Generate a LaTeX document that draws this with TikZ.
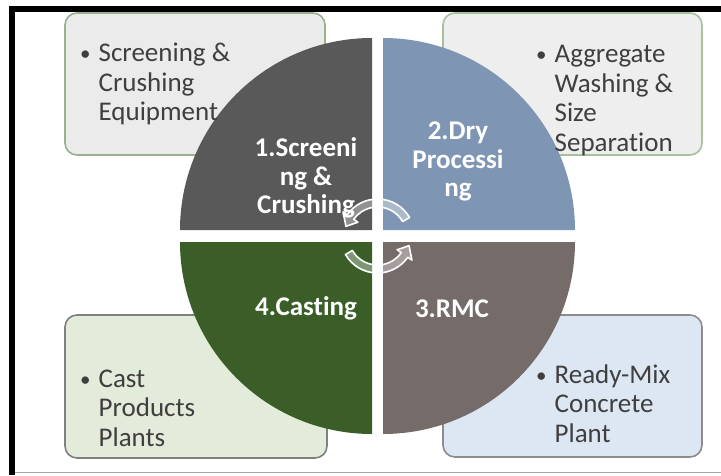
\documentclass[tikz,border=0pt]{standalone}
\usepackage{fontspec}
\setmainfont{Carlito}[Ligatures=NoCommon]
\definecolor{qone}{HTML}{595959}
\definecolor{qtwo}{HTML}{7E95B3}
\definecolor{qthree}{HTML}{756B68}
\definecolor{qfour}{HTML}{3B5E29}
\definecolor{boxtxt}{HTML}{3F3F3F}
\definecolor{fillA}{HTML}{EBEBEB}
\definecolor{fillB}{HTML}{EDEEED}
\definecolor{fillC}{HTML}{E3EBDA}
\definecolor{fillD}{HTML}{DDE7F3}
\definecolor{edgeA}{HTML}{9DB08C}
\definecolor{edgeB}{HTML}{A9C19B}
\definecolor{edgeC}{HTML}{808080}
\definecolor{edgeD}{HTML}{8C8C8C}
\newcommand{\smallbul}{\raisebox{1pt}{\fontsize{21}{21}\selectfont\textbullet}}
\tikzset{
  outerbox/.style={rounded corners=12pt, line width=1.6pt, inner sep=0pt, minimum width=260pt},
  boxtext/.style={anchor=base west, inner sep=0pt, text=boxtxt, font=\fontsize{27}{29.5}\selectfont},
  qlabel/.style={anchor=base, inner sep=0pt, text=white, font=\fontsize{27}{28.5}\selectfont\bfseries},
  arrowband/.style={fill=white, fill opacity=0.35, draw=white, draw opacity=1, line width=1.6pt, line join=round}
}
\begin{document}
\begin{tikzpicture}[x=1pt,y=1pt]
\useasboundingbox (0,0) rectangle (721,475);
% frame
\fill[black] (9,0) rectangle (15,469);
\fill[black] (9,463) rectangle (721,469);
\draw[gray!70, line width=1pt] (15,2.5) -- (721,2.5);
% boxes
\node[outerbox, fill=fillA, draw=edgeA, minimum height=142pt] (b1) at (195,391) {};
\node[outerbox, fill=fillB, draw=edgeB, minimum height=142pt, minimum width=259pt] (b2) at (572.5,391) {};
\node[outerbox, fill=fillC, draw=edgeC, minimum height=143pt, minimum width=262pt] (b4) at (196,88.5) {};
\node[outerbox, fill=fillD, draw=edgeD, minimum height=142pt, minimum width=259pt] (b3) at (572.5,89) {};
% quadrants
\fill[qone] (372,245) -- ++(-192,0) arc[start angle=180,end angle=90,radius=192] -- cycle;
\fill[qtwo] (383,245) -- ++(0,192) arc[start angle=90,end angle=0,radius=192] -- cycle;
\fill[qthree] (383,233) -- ++(192,0) arc[start angle=0,end angle=-90,radius=192] -- cycle;
\fill[qfour] (372,233) -- ++(0,-192) arc[start angle=270,end angle=180,radius=192] -- cycle;
% center arrows
\coordinate (C) at (377.5,239);
\draw[arrowband] ([shift={(30:37)}]C) arc[start angle=30,end angle=145,radius=37]
  -- ([shift={(145:42)}]C) -- ([shift={(163:33)}]C) -- ([shift={(145:24)}]C)
  -- ([shift={(145:29)}]C) arc[start angle=145,end angle=30,radius=29] -- cycle;
\draw[arrowband] ([shift={(210:37)}]C) arc[start angle=210,end angle=325,radius=37]
  -- ([shift={(325:42)}]C) -- ([shift={(343:33)}]C) -- ([shift={(325:24)}]C)
  -- ([shift={(325:29)}]C) arc[start angle=325,end angle=210,radius=29] -- cycle;
% quadrant labels
\node[qlabel] (q1) at (306,318) {\begin{tabular}[t]{@{}c@{}}1.Screeni\\ng \&\\Crushing\end{tabular}};
\node[qlabel] (q2) at (458,335) {\begin{tabular}[t]{@{}c@{}}2.Dry\\Processi\\ng\end{tabular}};
\node[qlabel] (q3) at (452,158) {3.RMC};
\node[qlabel] (q4) at (306,160) {4.Casting};
% box texts
\node[boxtext] (t1) at (80,413) {\begin{tabular}[t]{@{}l@{\hspace{8pt}}l@{}}\smallbul & Screening \&\\ & Crushing\\ & Equipment\end{tabular}};
\node[boxtext] (t2) at (536,412) {\begin{tabular}[t]{@{}l@{\hspace{8pt}}l@{}}\smallbul & Aggregate\\ & Washing \&\\ & Size\\ & Separation\end{tabular}};
\node[boxtext] (t4) at (80,88) {\begin{tabular}[t]{@{}l@{\hspace{8pt}}l@{}}\smallbul & Cast\\ & Products\\ & Plants\end{tabular}};
\node[boxtext] (t3) at (536,92) {\begin{tabular}[t]{@{}l@{\hspace{8pt}}l@{}}\smallbul & Ready-Mix\\ & Concrete\\ & Plant\end{tabular}};
\end{tikzpicture}
\end{document}
